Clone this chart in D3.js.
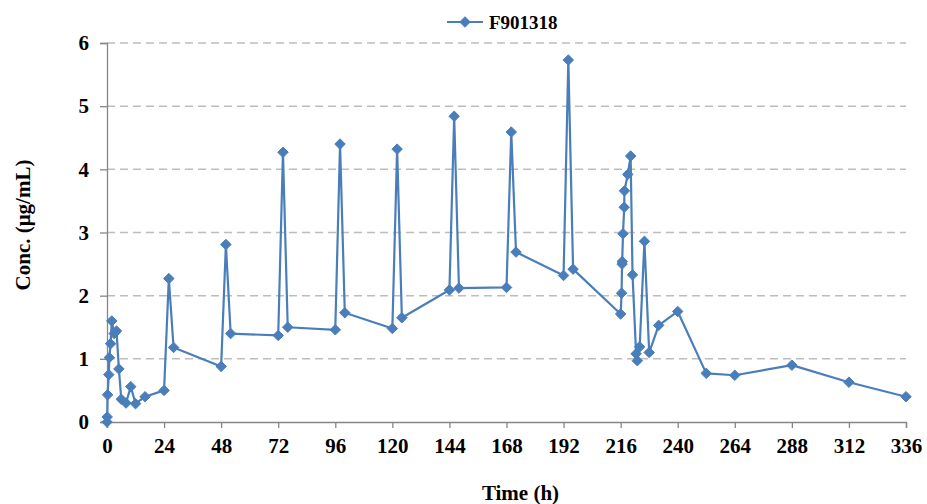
<!DOCTYPE html>
<html>
<head>
<meta charset="utf-8">
<script src="https://cdn.jsdelivr.net/npm/d3@7"></script>
<style>
  body { margin: 0; background: #fff; }
  svg text { font-family: "Liberation Serif", "Times New Roman", serif; font-weight: bold; fill: #000; }
</style>
</head>
<body>
<script>
// sampling times (h) and concentrations (ug/mL)
var time_h = [0, 0.083, 0.25, 0.75, 1, 1.5, 2, 3, 4, 5, 6, 8, 10, 12, 16, 24,
              26, 28, 48, 50, 52, 72, 74, 76, 96, 98, 100, 120, 122, 124,
              144, 146, 148, 168, 170, 172, 192, 194, 196,
              216, 216.4, 216.6, 216.65, 217, 217.5, 217.6, 219, 220.2, 221, 222.5, 223, 224, 226, 228, 232,
              240, 252, 264, 288, 312, 336];
var conc = [0, 0.08, 0.43, 0.75, 1.02, 1.24, 1.60, 1.40, 1.44, 0.84, 0.36, 0.30, 0.56, 0.29, 0.40, 0.50,
            2.27, 1.18, 0.88, 2.81, 1.40, 1.37, 4.27, 1.50, 1.46, 4.40, 1.73, 1.48, 4.32, 1.65,
            2.09, 4.84, 2.12, 2.13, 4.59, 2.69, 2.32, 5.73, 2.42,
            1.71, 2.04, 2.50, 2.54, 2.98, 3.40, 3.66, 3.92, 4.21, 2.33, 1.08, 0.97, 1.19, 2.86, 1.10, 1.53,
            1.75, 0.77, 0.74, 0.90, 0.63, 0.40];
var x_ticks = [0, 24, 48, 72, 96, 120, 144, 168, 192, 216, 240, 264, 288, 312, 336];
var y_ticks = [0, 1, 2, 3, 4, 5, 6];
var series_name = "F901318";

var width = 927;
var height = 504;
var margin = {top: 43, right: 21, bottom: 82, left: 107};
var blue = "#4a7ebb";

var points = time_h.map(function(t, i)
{
  return {t: t, c: conc[i]};
});

var svg = d3.select("body")
            .append("svg")
            .attr("width", width)
            .attr("height", height);

var x_scale = d3.scaleLinear()
                .domain([0, 336])
                .range([margin.left, width - margin.right]);

var y_scale = d3.scaleLinear()
                .domain([0, 6])
                .range([height - margin.bottom, margin.top]);

// dashed grid
svg.append("g")
   .selectAll("line")
   .data(y_ticks.filter(function(d) { return d > 0; }))
   .enter()
   .append("line")
   .attr("x1", x_scale(0))
   .attr("x2", x_scale(336))
   .attr("y1", function(d) { return y_scale(d); })
   .attr("y2", function(d) { return y_scale(d); })
   .attr("stroke", "#bdbdbd")
   .attr("stroke-width", 1.5)
   .attr("stroke-dasharray", "8,5");

// axes
var x_axis = d3.axisBottom(x_scale)
               .tickValues(x_ticks)
               .tickFormat(d3.format("d"))
               .tickSize(6)
               .tickPadding(10);

var y_axis = d3.axisLeft(y_scale)
               .tickValues(y_ticks)
               .tickFormat(d3.format("d"))
               .tickSize(7)
               .tickPadding(11);

var gx = svg.append("g")
            .attr("transform", "translate(0," + y_scale(0) + ")")
            .call(x_axis);

var gy = svg.append("g")
            .attr("transform", "translate(" + x_scale(0) + ",0)")
            .call(y_axis);

[gx, gy].forEach(function(g)
{
  g.select(".domain").attr("stroke", "#868686").attr("stroke-width", 1.3);
  g.selectAll(".tick line").attr("stroke", "#868686").attr("stroke-width", 1.3);
  g.selectAll(".tick text")
   .attr("font-family", "Liberation Serif")
   .attr("font-weight", "bold")
   .attr("font-size", 21)
   .attr("fill", "#000");
});

// axis titles
svg.append("text")
   .attr("x", (x_scale(0) + x_scale(336)) / 2 + 14)
   .attr("y", 500)
   .attr("text-anchor", "middle")
   .attr("font-size", 21)
   .text("Time (h)");

svg.append("text")
   .attr("transform", "translate(30," + 225 + ") rotate(-90)")
   .attr("text-anchor", "middle")
   .attr("font-size", 21)
   .text("Conc. (μg/mL)");

// series line + diamonds
var line = d3.line()
             .x(function(d) { return x_scale(d.t); })
             .y(function(d) { return y_scale(d.c); });

svg.append("path")
   .datum(points)
   .attr("d", line)
   .attr("fill", "none")
   .attr("stroke", blue)
   .attr("stroke-width", 2.2)
   .attr("stroke-linejoin", "round");

var diamond = d3.symbol().type(d3.symbolDiamond2).size(70);

svg.append("g")
   .selectAll("path")
   .data(points)
   .enter()
   .append("path")
   .attr("d", diamond)
   .attr("transform", function(d)
   {
     return "translate(" + x_scale(d.t) + "," + y_scale(d.c) + ")";
   })
   .attr("fill", blue)
   .attr("stroke", blue)
   .attr("stroke-width", 1);

// legend
var legend = svg.append("g");
legend.append("line")
      .attr("x1", 447)
      .attr("x2", 483)
      .attr("y1", 22)
      .attr("y2", 22)
      .attr("stroke", blue)
      .attr("stroke-width", 2.2);
legend.append("path")
      .attr("d", diamond)
      .attr("transform", "translate(465,22)")
      .attr("fill", blue)
      .attr("stroke", blue);
legend.append("text")
      .attr("x", 489)
      .attr("y", 28.5)
      .attr("font-size", 19)
      .text(series_name);
</script>
</body>
</html>
